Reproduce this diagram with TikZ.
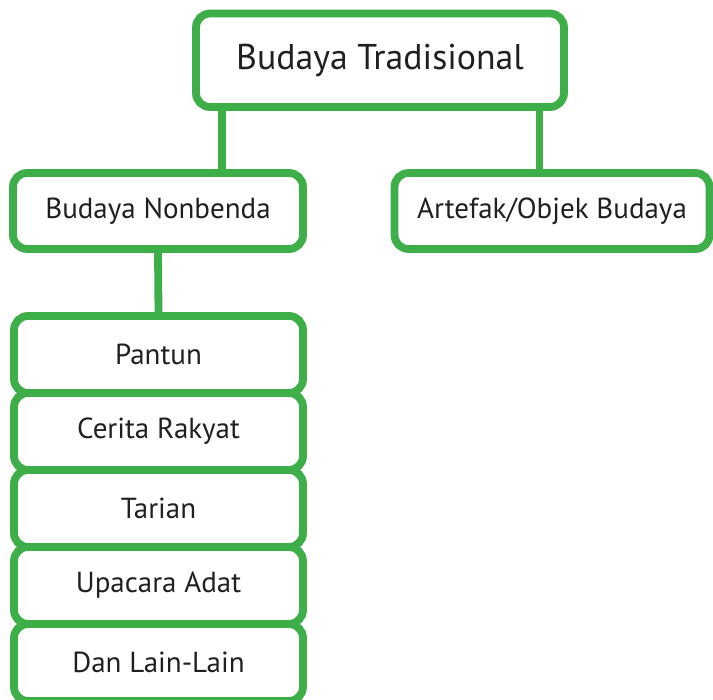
\documentclass[tikz,border=0pt]{standalone}
\usepackage{fontspec}
\setmainfont{PT Sans}
\definecolor{bgreen}{RGB}{62,174,73}
\definecolor{btext}{RGB}{35,31,32}
\begin{document}
\begin{tikzpicture}[x=1pt,y=1pt,
  box/.style={draw=bgreen, line width=7.8pt, rounded corners=14pt, fill=white,
    text=btext, inner sep=0pt, align=center},
  lbl/.style={box, font=\fontsize{29}{33}\selectfont},
  conn/.style={draw=bgreen, line width=7.8pt}]
\useasboundingbox (0,0) rectangle (713,-700);
\node[box, minimum width=368, minimum height=93.5, font=\fontsize{35.8}{40}\selectfont] (top) at (380,-60.25) {Budaya Tradisional};
\node[lbl, minimum width=290, minimum height=76] (nb) at (158,-211) {Budaya Nonbenda};
\node[lbl, minimum width=315, minimum height=76] (art) at (552,-211) {Artefak/Objek Budaya};
\path ([xshift=29.5]top.south west) coordinate (c1);
\path ([xshift=-28.5]top.south east) coordinate (c2);
\draw[conn] (c1) -- (c1 |- nb.north);
\draw[conn] (c2) -- (c2 |- art.north);
\node[lbl, minimum width=289, minimum height=77] (p1) at (158.5,-354.5) {Pantun};
\node[lbl, minimum width=289, minimum height=77] (p2) at (158.5,-431.5) {Cerita Rakyat};
\node[lbl, minimum width=289, minimum height=77] (p3) at (158.5,-508.5) {Tarian};
\node[lbl, minimum width=289, minimum height=77] (p4) at (158.5,-585.5) {Upacara Adat};
\node[lbl, minimum width=289, minimum height=77] (p5) at (158.5,-662.5) {Dan Lain-Lain};
\draw[conn] (nb.south) -- (p1.north);
\end{tikzpicture}
\end{document}
